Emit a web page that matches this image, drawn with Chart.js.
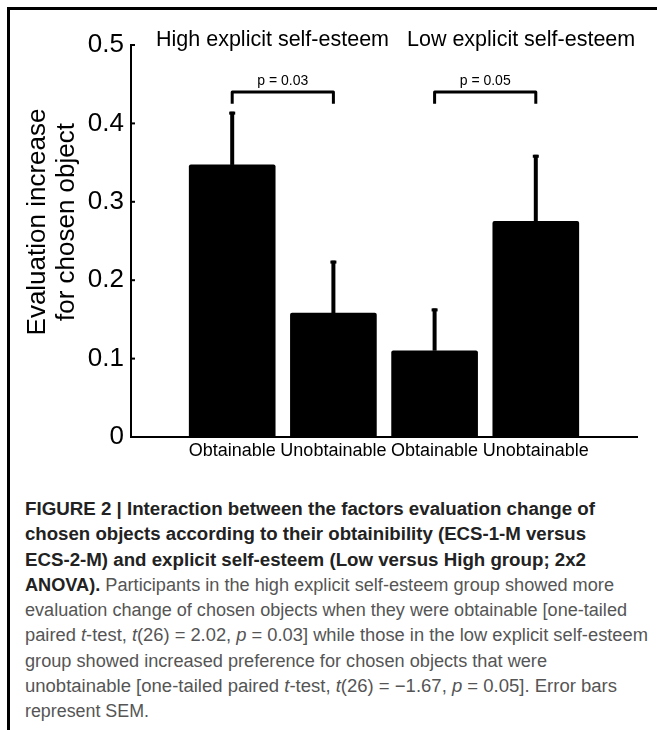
<!DOCTYPE html>
<html>
<head>
<meta charset="utf-8">
<script src="https://cdn.jsdelivr.net/npm/chart.js@4.4.1/dist/chart.umd.min.js"></script>
<style>
  body { margin: 0; background: #fff; width: 657px; height: 730px; overflow: hidden; position: relative; font-family: "Liberation Sans", Arial, sans-serif; }
  #frame { position: absolute; left: 7px; top: 7px; right: 0; bottom: 0; border-left: 3px solid #000; border-top: 3px solid #000; }
  #wrap { position: absolute; left: 0; top: 0; width: 657px; height: 480px; }
  #caption { position: absolute; left: 25px; top: 497px; font-size: 18px; line-height: 25.3px; color: #555; }
  #caption div { white-space: nowrap; transform-origin: 0 50%; width: max-content; }
  #caption b { color: #222; }
</style>
</head>
<body>
<div id="frame"></div>
<div id="wrap"><canvas id="chart" width="657" height="480"></canvas></div>
<div id="caption">
  <div data-w="570"><b>FIGURE 2 | Interaction between the factors evaluation change of</b></div>
  <div data-w="561"><b>chosen objects according to their obtainibility (ECS-1-M versus</b></div>
  <div data-w="561"><b>ECS-2-M) and explicit self-esteem (Low versus High group; 2x2</b></div>
  <div data-w="589"><b>ANOVA).</b> Participants in the high explicit self-esteem group showed more</div>
  <div data-w="602">evaluation change of chosen objects when they were obtainable [one-tailed</div>
  <div data-w="623">paired <i>t</i>-test, <i>t</i>(26) = 2.02, <i>p</i> = 0.03] while those in the low explicit self-esteem</div>
  <div data-w="522">group showed increased preference for chosen objects that were</div>
  <div data-w="592">unobtainable [one-tailed paired <i>t</i>-test, <i>t</i>(26) = −1.67, <i>p</i> = 0.05]. Error bars</div>
  <div data-w="124">represent SEM.</div>
</div>
<script>
// values
const groupTitles = ['High explicit self-esteem', 'Low explicit self-esteem'];
const categories = ['Obtainable', 'Unobtainable', 'Obtainable', 'Unobtainable'];
const positions = [1, 2, 3, 4];
const means = [0.347, 0.158, 0.110, 0.275];
const sems = [0.068, 0.067, 0.054, 0.085];
const pLabels = ['p = 0.03', 'p = 0.05'];
const bracketPairs = [[0, 1], [2, 3]];

// fit caption lines to the widths in the figure
document.querySelectorAll('#caption div').forEach((el) => {
  const w = el.getBoundingClientRect().width;
  el.style.transform = 'scaleX(' + (el.dataset.w / w) + ')';
});

// error bars, significance brackets, titles and inward ticks
const decor = {
  id: 'decor',
  afterDatasetsDraw(chart) {
    const ctx = chart.ctx;
    const x = chart.scales.x;
    const y = chart.scales.y;
    const area = chart.chartArea;
    ctx.save();
    ctx.fillStyle = '#000';
    ctx.strokeStyle = '#000';

    // error bars (upper half only)
    ctx.lineWidth = 4;
    positions.forEach((p, i) => {
      const px = x.getPixelForValue(p);
      const base = y.getPixelForValue(means[i]);
      const top = y.getPixelForValue(means[i] + sems[i]);
      ctx.beginPath();
      ctx.moveTo(px, base);
      ctx.lineTo(px, top);
      ctx.stroke();
      ctx.fillRect(px - 3, top, 6, 3);
    });

    // brackets
    ctx.lineWidth = 3;
    ctx.lineJoin = 'round';
    const level = y.getPixelForValue(0.44);
    const tip = y.getPixelForValue(0.425);
    bracketPairs.forEach((pair, k) => {
      const x1 = x.getPixelForValue(positions[pair[0]]);
      const x2 = x.getPixelForValue(positions[pair[1]]);
      ctx.beginPath();
      ctx.moveTo(x1, tip);
      ctx.lineTo(x1, level);
      ctx.lineTo(x2, level);
      ctx.lineTo(x2, tip);
      ctx.stroke();
      ctx.font = '14px "Liberation Sans", Arial, sans-serif';
      ctx.textAlign = 'center';
      ctx.textBaseline = 'alphabetic';
      ctx.fillText(pLabels[k], (x1 + x2) / 2, level - 7);
    });

    // group titles
    ctx.font = '21.5px "Liberation Sans", Arial, sans-serif';
    ctx.textAlign = 'left';
    ctx.fillText(groupTitles[0], area.left + 25, area.top + 1);
    ctx.fillText(groupTitles[1], area.left + 276, area.top + 1);

    // y axis title
    ctx.save();
    ctx.translate(0, 222);
    ctx.rotate(-Math.PI / 2);
    ctx.font = '26px "Liberation Sans", Arial, sans-serif';
    ctx.textAlign = 'center';
    ctx.textBaseline = 'middle';
    ctx.fillText('Evaluation increase', 0, 38);
    ctx.fillText('for chosen object', 0, 67);
    ctx.restore();

    // short ticks on the inside of the y axis
    ctx.lineWidth = 2;
    y.ticks.forEach((t) => {
      const py = y.getPixelForValue(t.value);
      ctx.beginPath();
      ctx.moveTo(area.left, py);
      ctx.lineTo(area.left + 4, py);
      ctx.stroke();
    });
    ctx.restore();
  }
};

function createChart() {
  const ctx = document.getElementById('chart');
  new Chart(ctx, {
    type: 'bar',
    data: {
      datasets: [{
        data: positions.map((p, i) => ({ x: p, y: means[i] })),
        backgroundColor: '#000',
        borderRadius: 2,
        borderSkipped: 'bottom',
        barThickness: 86
      }]
    },
    options: {
      responsive: false,
      animation: false,
      layout: { padding: { left: 0, right: 20, top: 45, bottom: 0 } },
      plugins: { legend: { display: false }, tooltip: { enabled: false } },
      scales: {
        x: {
          type: 'linear',
          min: 0,
          max: 5,
          offset: false,
          afterFit: (s) => { s.height = 43; },
          grid: { display: false, drawTicks: false },
          border: { color: '#000', width: 2 },
          ticks: {
            stepSize: 1,
            autoSkip: false,
            maxRotation: 0,
            padding: 3,
            color: '#000',
            font: { size: 18, family: '"Liberation Sans Narrow", "Liberation Sans", Arial, sans-serif' },
            callback: (v) => categories[v - 1] || ''
          }
        },
        y: {
          min: 0,
          max: 0.5,
          afterFit: (s) => { s.width = 131; },
          grid: { display: false, drawTicks: false },
          border: { color: '#000', width: 2 },
          ticks: {
            stepSize: 0.1,
            padding: 7,
            color: '#000',
            font: { size: 26, family: '"Liberation Sans", Arial, sans-serif' },
            callback: (v) => (v === 0 ? '0' : v.toFixed(1))
          }
        }
      }
    },
    plugins: [decor]
  });
}

document.addEventListener('DOMContentLoaded', createChart);
</script>
</body>
</html>
